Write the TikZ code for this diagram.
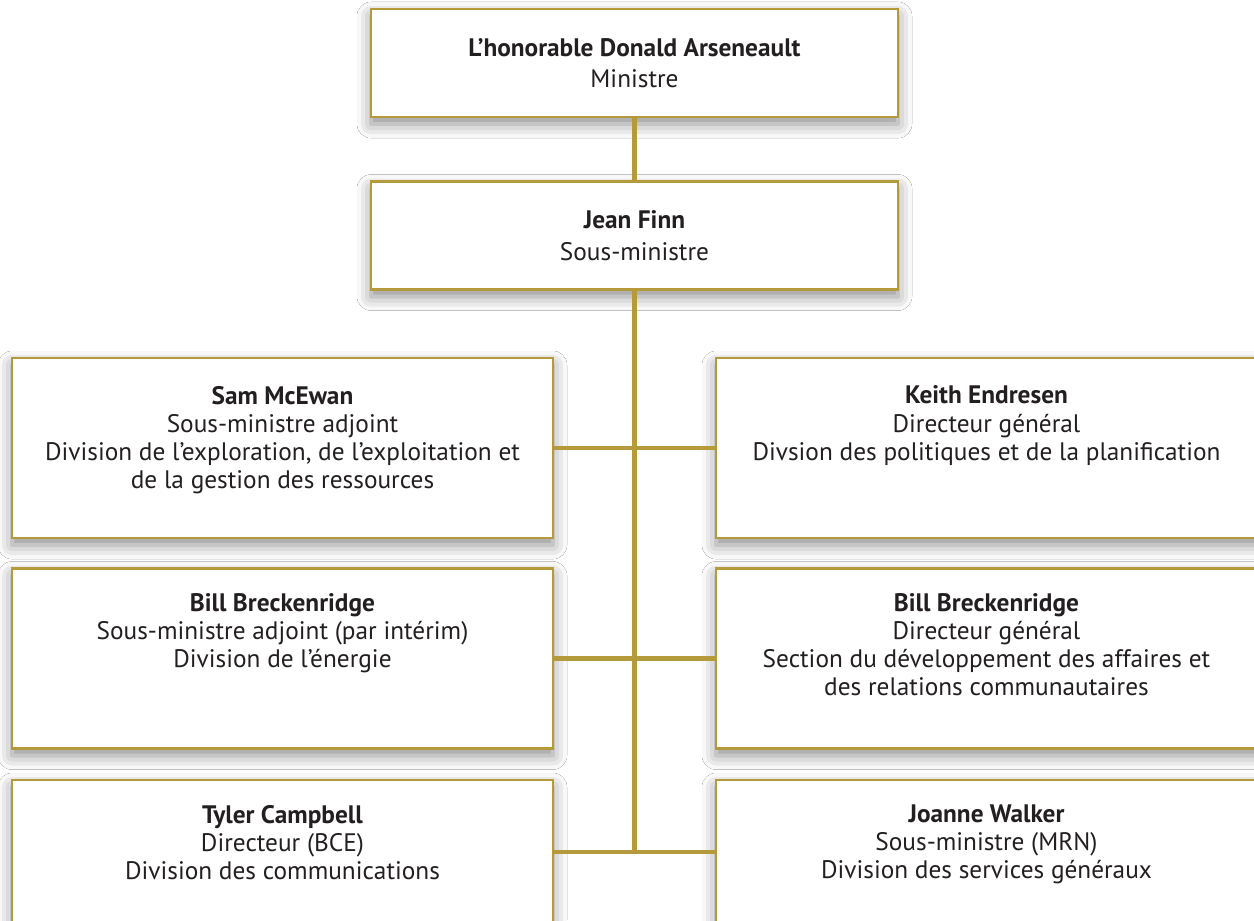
\documentclass[tikz,border=0pt]{standalone}
\usepackage{fontspec}
\setmainfont{PT Sans}
\usetikzlibrary{positioning,shadows.blur}
\definecolor{gold}{HTML}{B59A3C}
\definecolor{ink}{HTML}{231F20}

\begin{document}
\begin{tikzpicture}[x=0.02cm,y=-0.02cm,
    box/.style={draw=gold,line width=1.6pt,fill=white,inner sep=0pt,
      blur shadow={shadow xshift=0pt,shadow yshift=-4pt,
        shadow blur radius=8pt,shadow opacity=45}},
    topbox/.style={box,minimum width=10.54cm,minimum height=2.16cm},
    unitbox/.style={box,minimum width=10.82cm,minimum height=3.6cm},
    lastbox/.style={box,minimum width=10.82cm,minimum height=2.88cm},
    txt/.style={text=ink,align=center,inner sep=0pt,
      font=\fontsize{14.4}{16}\selectfont},
    link/.style={draw=gold,line width=2.8pt}]
  \useasboundingbox (0,0) rectangle (1254,920);
  \fill[white] (0,0) rectangle (1254,920);
  \clip (0,0) rectangle (1254,920);

  % head of the ministry
  \node[topbox,txt] (minister) at (634.5,63)
    {\textbf{L’honorable Donald Arseneault}\\[2pt]Ministre};
  \node[topbox,txt] (deputy) at (634.5,235.5)
    {\textbf{Jean Finn}\\[2pt]Sous-ministre};

  % divisions, left column
  \node[unitbox] (mcewan) at (282.5,448) {};
  \node[unitbox] (energy) at (282.5,658.5) {};
  \node[lastbox] (comms) at (282.5,852) {};
  % divisions, right column
  \node[unitbox] (policy) at (986.5,448) {};
  \node[unitbox] (business) at (986.5,658.5) {};
  \node[lastbox] (services) at (986.5,852) {};

  \node[txt,below=0.58cm of mcewan.north] (mcewantxt)
    {\textbf{Sam McEwan}\\Sous-ministre adjoint\\
     Division de l’exploration, de l’exploitation et\\
     de la gestion des ressources};
  \node[txt,below=0.52cm of energy.north] (energytxt)
    {\textbf{Bill Breckenridge}\\Sous-ministre adjoint (par intérim)\\
     Division de l’énergie};
  \node[txt,below=0.52cm of comms.north] (commstxt)
    {\textbf{Tyler Campbell}\\Directeur (BCE)\\
     Division des communications};
  \node[txt,below=0.58cm of policy.north] (policytxt)
    {\textbf{Keith Endresen}\\Directeur général\\
     Divsion des politiques et de la planification};
  \node[txt,below=0.52cm of business.north] (businesstxt)
    {\textbf{Bill Breckenridge}\\Directeur général\\
     Section du développement des affaires et\\
     des relations communautaires};
  \node[txt,below=0.52cm of services.north] (servicestxt)
    {\textbf{Joanne Walker}\\Sous-ministre (MRN)\\
     Division des services généraux};

  % connectors
  \draw[link] (minister.south) -- (deputy.north);
  \draw[link] (deputy.south) -- (deputy.south |- comms.east);
  \draw[link] (mcewan.east) -- (policy.west);
  \draw[link] (energy.east) -- (business.west);
  \draw[link] (comms.east) -- (services.west);
\end{tikzpicture}
\end{document}
